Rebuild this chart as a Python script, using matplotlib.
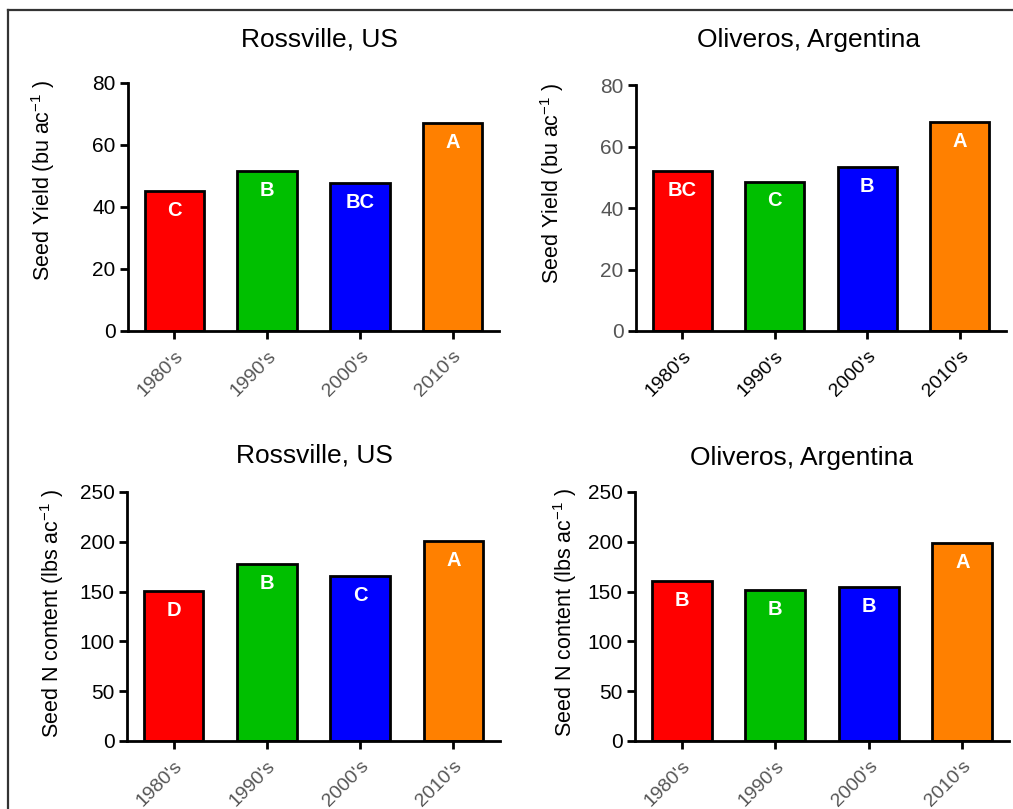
import matplotlib
matplotlib.use('Agg')
import matplotlib.pyplot as plt
from matplotlib.lines import Line2D

plt.rcParams['font.family'] = ['Liberation Sans', 'DejaVu Sans']
plt.rcParams['mathtext.fontset'] = 'custom'
plt.rcParams['mathtext.rm'] = 'Liberation Sans'
plt.rcParams['mathtext.it'] = 'Liberation Sans:italic'
plt.rcParams['mathtext.bf'] = 'Liberation Sans:bold'

decades = ["1980's", "1990's", "2000's", "2010's"]
bar_colors = ['#ff0000', '#00bf00', '#0000ff', '#ff8000']

yield_ross = [45.2, 51.6, 47.8, 67.1]
yield_oliv = [52.0, 48.6, 53.2, 68.0]
nitro_ross = [151, 178, 166, 201]
nitro_oliv = [161, 152, 155, 199]

letters_yield_ross = ['C', 'B', 'BC', 'A']
letters_yield_oliv = ['BC', 'C', 'B', 'A']
letters_nitro_ross = ['D', 'B', 'C', 'A']
letters_nitro_oliv = ['B', 'B', 'B', 'A']

W, H = 1013, 809
fig = plt.figure(figsize=(W / 100, H / 100), dpi=100)


def px_axes(x0, x1, ytop, ybot):
    return fig.add_axes([x0 / W, 1 - ybot / H, (x1 - x0) / W, (ybot - ytop) / H])


def panel(ax, values, letters, ymax, ystep, xcol, ycol):
    x = range(len(decades))
    ax.bar(x, values, width=0.64, color=bar_colors, edgecolor='black', linewidth=2)
    for i, v in enumerate(values):
        ax.annotate(letters[i], (i, v), xytext=(0, -14), textcoords='offset points',
                    ha='center', va='center', color='white', fontsize=14.5,
                    fontweight='bold')
    ax.set_xlim(-0.5, 3.5)
    ax.set_ylim(0, ymax)
    ax.set_yticks(range(0, ymax + 1, ystep))
    ax.set_xticks(list(x))
    ax.set_xticklabels(decades, rotation=45, ha='right', rotation_mode='anchor',
                       fontsize=14, color=xcol)
    for t in ax.get_yticklabels():
        t.set_fontsize(15)
        t.set_color(ycol)
    ax.spines['top'].set_visible(False)
    ax.spines['right'].set_visible(False)
    ax.spines['left'].set_linewidth(2)
    ax.spines['bottom'].set_linewidth(2)
    ax.tick_params(axis='both', width=2, length=6, direction='out')
    ax.tick_params(axis='x', pad=6)
    ax.tick_params(axis='y', pad=3)


ax1 = px_axes(128, 499, 83, 331)
panel(ax1, yield_ross, letters_yield_ross, 80, 20, '#555555', 'black')
ax2 = px_axes(636, 1006, 85, 331)
panel(ax2, yield_oliv, letters_yield_oliv, 80, 20, 'black', '#555555')
ax3 = px_axes(127, 500, 492, 741)
panel(ax3, nitro_ross, letters_nitro_ross, 250, 50, '#555555', 'black')
ax4 = px_axes(635, 1009, 492, 741)
panel(ax4, nitro_oliv, letters_nitro_oliv, 250, 50, '#555555', 'black')

# titles and y labels
fig.text(319 / W, 1 - 40 / H, 'Rossville, US', ha='center', va='center', fontsize=19)
fig.text(809 / W, 1 - 40 / H, 'Oliveros, Argentina', ha='center', va='center', fontsize=19)
fig.text(314 / W, 1 - 455 / H, 'Rossville, US', ha='center', va='center', fontsize=19)
fig.text(802 / W, 1 - 458 / H, 'Oliveros, Argentina', ha='center', va='center', fontsize=19)

fig.text(43 / W, 1 - 180 / H, 'Seed Yield (bu ac$^{-1}$ )', rotation=90,
         ha='center', va='center', fontsize=15.5)
fig.text(552 / W, 1 - 183 / H, 'Seed Yield (bu ac$^{-1}$ )', rotation=90,
         ha='center', va='center', fontsize=15.5)
fig.text(52 / W, 1 - 613 / H, 'Seed N content (lbs ac$^{-1}$ )', rotation=90,
         ha='center', va='center', fontsize=15.5)
fig.text(565 / W, 1 - 612 / H, 'Seed N content (lbs ac$^{-1}$ )', rotation=90,
         ha='center', va='center', fontsize=15.5)

# outer frame (left and top edges)
fig.add_artist(Line2D([7.5 / W, 7.5 / W], [0, 1 - 10 / H], color='#333333', lw=1.6))
fig.add_artist(Line2D([7.5 / W, 1], [1 - 10 / H, 1 - 10 / H], color='#333333', lw=1.6))

fig.savefig('out.png', dpi=100)
